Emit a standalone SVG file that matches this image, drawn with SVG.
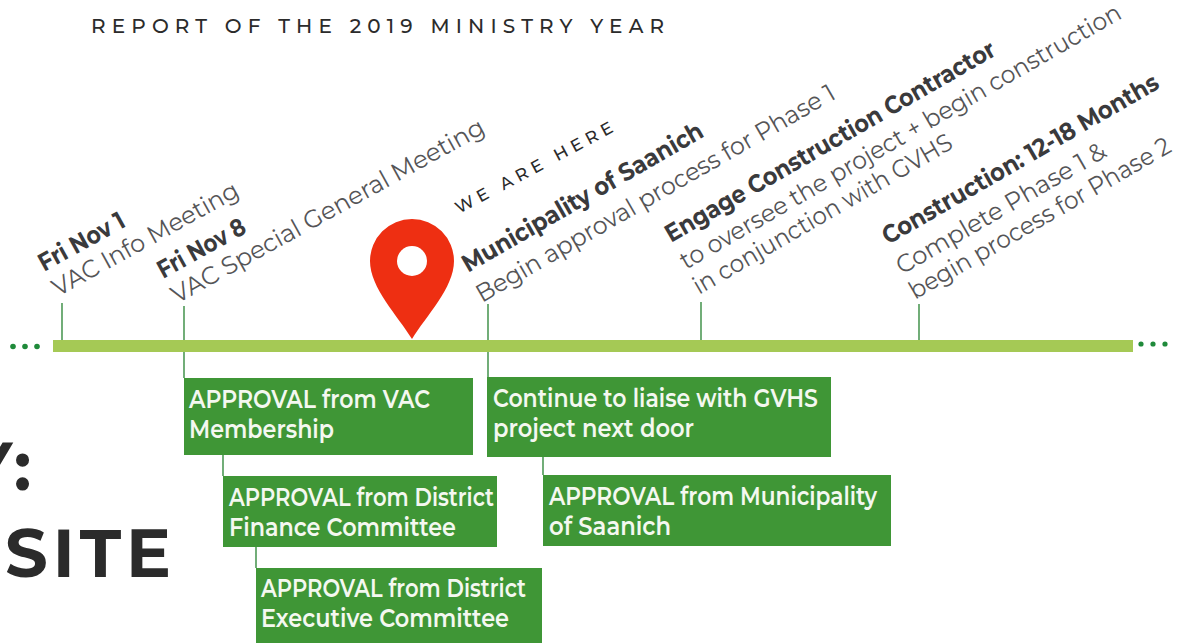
<svg xmlns="http://www.w3.org/2000/svg" width="1186" height="643" viewBox="0 0 1186 643">
<style>
.hd{font-family:"Montserrat","Lato","Liberation Sans",sans-serif;fill:#2b2b2b}
.b{font-family:"Montserrat","Lato","Liberation Sans",sans-serif;font-size:25px;font-weight:700;fill:#3a3a3c}
.r{font-family:"Montserrat","Lato","Liberation Sans",sans-serif;font-size:25px;font-weight:400;fill:#555557}
.box{fill:#3f9636}
.t{font-family:"Montserrat","Lato","Liberation Sans",sans-serif;font-size:25px;font-weight:600;fill:#f4f8f0}
.c{stroke:#4f9a58;stroke-width:1.6;fill:none}
.d{fill:#1f8a3a}
</style>
<rect width="1186" height="643" fill="#fff"/>
<text class="hd" x="91" y="33" font-size="20" font-weight="500" textLength="573" lengthAdjust="spacing">REPORT OF THE 2019 MINISTRY YEAR</text>
<text class="hd" x="-33" y="490" font-size="67" font-weight="700" letter-spacing="4">Y:</text>
<text class="hd" x="5" y="577" font-size="67" font-weight="700" textLength="166" lengthAdjust="spacing">SITE</text>
<g id="connectors">
<path class="c" d="M62 303V340M184 306V378M488 304V378M701 302V340M919 304V340M223 455V476M256 547V568M543 457V475"/>
</g>
<g id="timeline">
<rect x="53" y="340" width="1080" height="12" fill="#a5c955"/>
<circle class="d" cx="13" cy="346.500" r="2.800"/><circle class="d" cx="25" cy="346.500" r="2.800"/><circle class="d" cx="37" cy="346.500" r="2.800"/>
<circle class="d" cx="1141" cy="344" r="2.600"/><circle class="d" cx="1153" cy="344" r="2.600"/><circle class="d" cx="1165" cy="344" r="2.600"/>
</g>
<g id="pin">
<path fill="#ee2f12" d="M412 339C398 316 370 288 370 261A42 42 0 0 1 454 261C454 288 426 316 412 339Z"/>
<circle cx="412" cy="261" r="15" fill="#fff"/>
</g>
<g id="here"><text transform="translate(459 214) rotate(-28)" font-family="Montserrat,Lato,'Liberation Sans',sans-serif" font-size="17" font-weight="500" fill="#2b2b2b" textLength="176" lengthAdjust="spacing">WE ARE HERE</text></g>
<g id="m1">
<text class="b" transform="translate(44 272) rotate(-29)" textLength="95" lengthAdjust="spacingAndGlyphs">Fri Nov 1</text>
<text class="r" transform="translate(58 297) rotate(-29)" textLength="209" lengthAdjust="spacingAndGlyphs">VAC Info Meeting</text>
</g>
<g id="m2">
<text class="b" transform="translate(163 279) rotate(-29)" textLength="97" lengthAdjust="spacingAndGlyphs">Fri Nov 8</text>
<text class="r" transform="translate(177 304) rotate(-29)" textLength="354" lengthAdjust="spacingAndGlyphs">VAC Special General Meeting</text>
</g>
<g id="m3">
<text class="b" transform="translate(468 273) rotate(-30)" textLength="274" lengthAdjust="spacingAndGlyphs">Municipality of Saanich</text>
<text class="r" transform="translate(482 303) rotate(-30)" textLength="410" lengthAdjust="spacingAndGlyphs">Begin approval process for Phase 1</text>
</g>
<g id="m4">
<text class="b" transform="translate(671 243) rotate(-30)" textLength="377" lengthAdjust="spacingAndGlyphs">Engage Construction Contractor</text>
<text class="r" transform="translate(686 270) rotate(-30)" textLength="505" lengthAdjust="spacingAndGlyphs">to oversee the project + begin construction</text>
<text class="r" transform="translate(699 295) rotate(-30)" textLength="295" lengthAdjust="spacingAndGlyphs">in conjunction with GVHS</text>
</g>
<g id="m5">
<text class="b" transform="translate(888 245) rotate(-30)" textLength="315" lengthAdjust="spacingAndGlyphs">Construction: 12-18 Months</text>
<text class="r" transform="translate(902 275) rotate(-30)" textLength="238" lengthAdjust="spacingAndGlyphs">Complete Phase 1 &amp;</text>
<text class="r" transform="translate(915 300) rotate(-30)" textLength="298" lengthAdjust="spacingAndGlyphs">begin process for Phase 2</text>
</g>
<g id="a1"><rect class="box" x="184" y="378" width="289" height="77"/><text class="t" x="189" y="408" textLength="241" lengthAdjust="spacingAndGlyphs">APPROVAL from VAC</text><text class="t" x="189" y="438" textLength="145" lengthAdjust="spacingAndGlyphs">Membership</text></g>
<g id="a2"><rect class="box" x="223" y="476" width="274" height="71"/><text class="t" x="229" y="506" textLength="265" lengthAdjust="spacingAndGlyphs">APPROVAL from District</text><text class="t" x="229" y="536" textLength="227" lengthAdjust="spacingAndGlyphs">Finance Committee</text></g>
<g id="a3"><rect class="box" x="256" y="568" width="286" height="75"/><text class="t" x="261" y="597" textLength="265" lengthAdjust="spacingAndGlyphs">APPROVAL from District</text><text class="t" x="261" y="627" textLength="248" lengthAdjust="spacingAndGlyphs">Executive Committee</text></g>
<g id="b1"><rect class="box" x="487" y="377" width="344" height="80"/><text class="t" x="493" y="407" textLength="325" lengthAdjust="spacingAndGlyphs">Continue to liaise with GVHS</text><text class="t" x="493" y="437" textLength="201" lengthAdjust="spacingAndGlyphs">project next door</text></g>
<g id="b2"><rect class="box" x="543" y="475" width="348" height="71"/><text class="t" x="549" y="505" textLength="328" lengthAdjust="spacingAndGlyphs">APPROVAL from Municipality</text><text class="t" x="549" y="535" textLength="122" lengthAdjust="spacingAndGlyphs">of Saanich</text></g>
</svg>
